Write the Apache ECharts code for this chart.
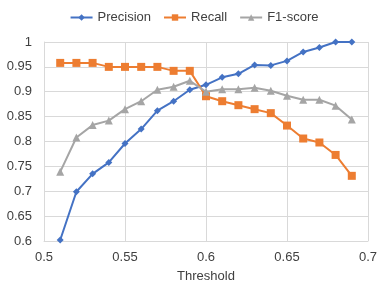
<!DOCTYPE html>
<html><head><meta charset="utf-8">
<script src="https://cdn.jsdelivr.net/npm/echarts@6/dist/echarts.min.js"></script>
<style>html,body{margin:0;padding:0;background:#fff}#c{width:388px;height:300px}</style>
</head><body><div id="c"></div>
<script>
const thresholds = [0.51,0.52,0.53,0.54,0.55,0.56,0.57,0.58,0.59,0.60,0.61,0.62,0.63,0.64,0.65,0.66,0.67,0.68,0.69];
const precision = [0.602,0.699,0.735,0.758,0.796,0.825,0.862,0.881,0.904,0.914,0.929,0.936,0.954,0.953,0.962,0.980,0.989,1.0,1.0];
const recall = [0.958,0.958,0.958,0.950,0.950,0.950,0.950,0.942,0.942,0.891,0.881,0.873,0.865,0.857,0.832,0.806,0.798,0.773,0.731];
const f1 = [0.739,0.808,0.833,0.842,0.865,0.881,0.904,0.910,0.922,0.900,0.905,0.905,0.908,0.902,0.892,0.884,0.884,0.872,0.844];
const names = ['Precision','Recall','F1-score'];
const colors = ['#4472C4','#ED7D31','#A5A5A5'];
const symbols = ['diamond','rect','triangle'];
const sizes = [7,8,8];
const font = 'Liberation Sans';
const pairs = a => thresholds.map((t,i)=>[t,a[i]]);
const chart = echarts.init(document.getElementById('c'));
chart.setOption({
  animation:false,
  color:colors,
  legend:{top:6,left:'center',itemWidth:22,itemHeight:8,itemGap:12,
    textStyle:{color:'#404040',fontSize:13,fontFamily:font},
    data:names},
  grid:{left:44,right:20,top:42,bottom:59},
  xAxis:{type:'value',min:0.5,max:0.7,interval:0.05,name:'Threshold',nameLocation:'middle',nameGap:29,
    nameTextStyle:{color:'#404040',fontSize:13,fontFamily:font},
    axisLine:{show:true,lineStyle:{color:'#D9D9D9'}},axisTick:{show:false},
    axisLabel:{color:'#404040',fontSize:13,fontFamily:font,margin:10},
    splitLine:{show:true,lineStyle:{color:'#D9D9D9'}}},
  yAxis:{type:'value',min:0.6,max:1,interval:0.05,
    axisLine:{show:true,lineStyle:{color:'#D9D9D9'}},axisTick:{show:false},
    axisLabel:{color:'#404040',fontSize:13,fontFamily:font,margin:12},
    splitLine:{show:true,lineStyle:{color:'#D9D9D9'}}},
  series:[precision,recall,f1].map((d,i)=>({
    name:names[i],type:'line',data:pairs(d),symbol:symbols[i],symbolSize:sizes[i],
    lineStyle:{width:2,color:colors[i]},itemStyle:{color:colors[i]}
  }))
});
</script></body></html>
